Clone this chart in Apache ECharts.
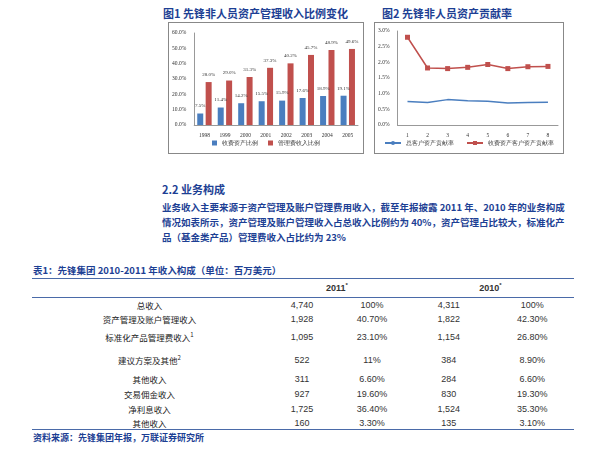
<!DOCTYPE html><html><head><meta charset="utf-8">
<script src="https://cdn.jsdelivr.net/npm/echarts@6/dist/echarts.min.js"></script>
<style>
body{margin:0;width:602px;height:450px;background:#fff;position:relative;overflow:hidden;font-family:"Noto Sans CJK SC",sans-serif}
.t{position:absolute;color:#1d3f94;font-weight:bold;font-size:10px;white-space:nowrap}
.box{position:absolute;border:1px solid #888;background:#fff}
table{position:absolute;left:32px;top:278px;width:542px;border-collapse:collapse;font-size:9px;color:#333;font-family:"Liberation Sans",Arial;table-layout:fixed}
td{padding:0;text-align:center;line-height:10px;overflow:visible}
td.l{font-family:"Noto Sans CJK SC";font-size:8.5px;color:#222}
sup{font-size:6px;line-height:0;vertical-align:4px}
</style></head><body>
<div class="t" style="left:163px;top:5px;font-size:11px">图1 先锋非人员资产管理收入比例变化</div>
<div class="t" style="left:382px;top:5px;font-size:11px">图2 先锋非人员资产贡献率</div>
<div class="box" id="c1" style="left:168px;top:22px;width:194px;height:130px"></div>
<div class="box" id="c2" style="left:374px;top:22px;width:188px;height:130px"></div>
<div class="t" style="left:162px;top:181px;font-size:11px">2.2 业务构成</div>
<div class="t" style="left:162px;top:200px;width:408px;white-space:normal;line-height:15px;font-size:9.5px">业务收入主要来源于资产管理及账户管理费用收入，截至年报披露 2011 年、2010 年的业务构成情况如表所示，资产管理及账户管理收入占总收入比例约为 40%，资产管理占比较大，标准化产品（基金类产品）管理费收入占比约为 23%</div>
<div class="t" style="left:33px;top:263px;font-size:9.5px">表1：先锋集团 2010-2011 年收入构成（单位：百万美元）</div>
<table id="tb"></table>
<div style="position:absolute;left:32px;top:429px;width:542px;border-top:1px solid #4a6aa8"></div>
<div class="t" style="left:33px;top:431px;font-size:9px">资料来源：先锋集团年报，万联证券研究所</div>
<script>
var years=['1998','1999','2000','2001','2002','2003','2004','2005'];
var feeAssetPct=[7.5,11.4,14.2,15.5,15.9,17.6,18.9,19.1];
var mgmtFeePct=[28.0,29.0,31.3,37.3,40.2,45.7,48.9,49.6];
var idx=['1','2','3','4','5','6','7','8'];
var totalContrib=[0.75,0.72,0.81,0.77,0.76,0.70,0.72,0.73];
var feeContrib=[2.80,1.82,1.80,1.84,1.93,1.80,1.86,1.87];
var rowLabels=['总收入','资产管理及账户管理收入','标准化产品管理费收入<sup>1</sup>','建议方案及其他<sup>2</sup>','其他收入','交易佣金收入','净利息收入','其他收入'];
var v2011=['4,740','1,928','1,095','522','311','927','1,725','160'];
var p2011=['100%','40.70%','23.10%','11%','6.60%','19.60%','36.40%','3.30%'];
var v2010=['4,311','1,822','1,154','384','284','830','1,524','135'];
var p2010=['100%','42.30%','26.80%','8.90%','6.60%','19.30%','35.30%','3.10%'];
var heights=[13,15,22,23,16,14,15,13];
var h='<tr style="border-top:1px solid #4a6aa8;border-bottom:1px solid #4a6aa8"><td style="height:18px;width:235px"></td><td colspan=2 style="font-weight:bold;width:140px">2011<sup>*</sup></td><td colspan=2 style="font-weight:bold">2010<sup>*</sup></td></tr>';
for(var i=0;i<rowLabels.length;i++)h+='<tr><td class="l" style="height:'+heights[i]+'px">'+rowLabels[i]+'</td><td style="width:60px">'+v2011[i]+'</td><td style="width:80px">'+p2011[i]+'</td><td style="width:60px">'+v2010[i]+'</td><td>'+p2010[i]+'</td></tr>';
document.getElementById('tb').innerHTML=h;
var fs=5.5,ff='Liberation Serif';
var c1=echarts.init(document.getElementById('c1'));
c1.setOption({animation:false,
grid:{left:25,right:5,top:10,bottom:28},
legend:{bottom:2,itemWidth:5,itemHeight:5,icon:'rect',textStyle:{fontSize:5.5,color:'#333'},itemGap:10},
xAxis:{type:'category',data:years,axisLabel:{fontSize:fs,fontFamily:ff,color:'#333'},axisTick:{show:false},axisLine:{lineStyle:{color:'#999'}}},
yAxis:{type:'value',min:0,max:60,interval:10,axisLabel:{fontSize:fs,fontFamily:ff,color:'#333',formatter:function(v){return v.toFixed(1)+'%'}},splitLine:{show:false},axisLine:{show:true,lineStyle:{color:'#999'}}},
series:[{name:'收费资产比例',type:'bar',data:feeAssetPct,barWidth:6,barGap:'40%',itemStyle:{color:'#4a7ebf'},label:{show:true,position:'top',fontSize:5,fontFamily:ff,color:'#333',formatter:'{c}%'}},
{name:'管理费收入比例',type:'bar',data:mgmtFeePct,barWidth:6,itemStyle:{color:'#c0504d'},label:{show:true,position:'top',fontSize:5,fontFamily:ff,color:'#333',formatter:function(p){return p.value.toFixed(1)+'%'}}}]});
var c2=echarts.init(document.getElementById('c2'));
c2.setOption({animation:false,
grid:{left:22,right:5,top:8,bottom:28},
legend:{bottom:2,itemWidth:16,itemHeight:5,textStyle:{fontSize:5.5,color:'#333'},itemGap:12},
xAxis:{type:'category',data:idx,axisLabel:{fontSize:fs,fontFamily:ff,color:'#333'},axisTick:{show:false},axisLine:{lineStyle:{color:'#999'}}},
yAxis:{type:'value',min:0,max:3,interval:0.5,axisLabel:{fontSize:fs,fontFamily:ff,color:'#333',formatter:function(v){return v.toFixed(1)+'%'}},splitLine:{show:false},axisLine:{show:true,lineStyle:{color:'#999'}}},
series:[{name:'总客户资产贡献率',type:'line',data:totalContrib,symbol:'none',lineStyle:{color:'#4a7ebf',width:1.5},itemStyle:{color:'#4a7ebf'}},
{name:'收费资产客户资产贡献率',type:'line',data:feeContrib,symbol:'rect',symbolSize:5,lineStyle:{color:'#c0504d',width:1.5},itemStyle:{color:'#c0504d'}}]});
</script></body></html>
